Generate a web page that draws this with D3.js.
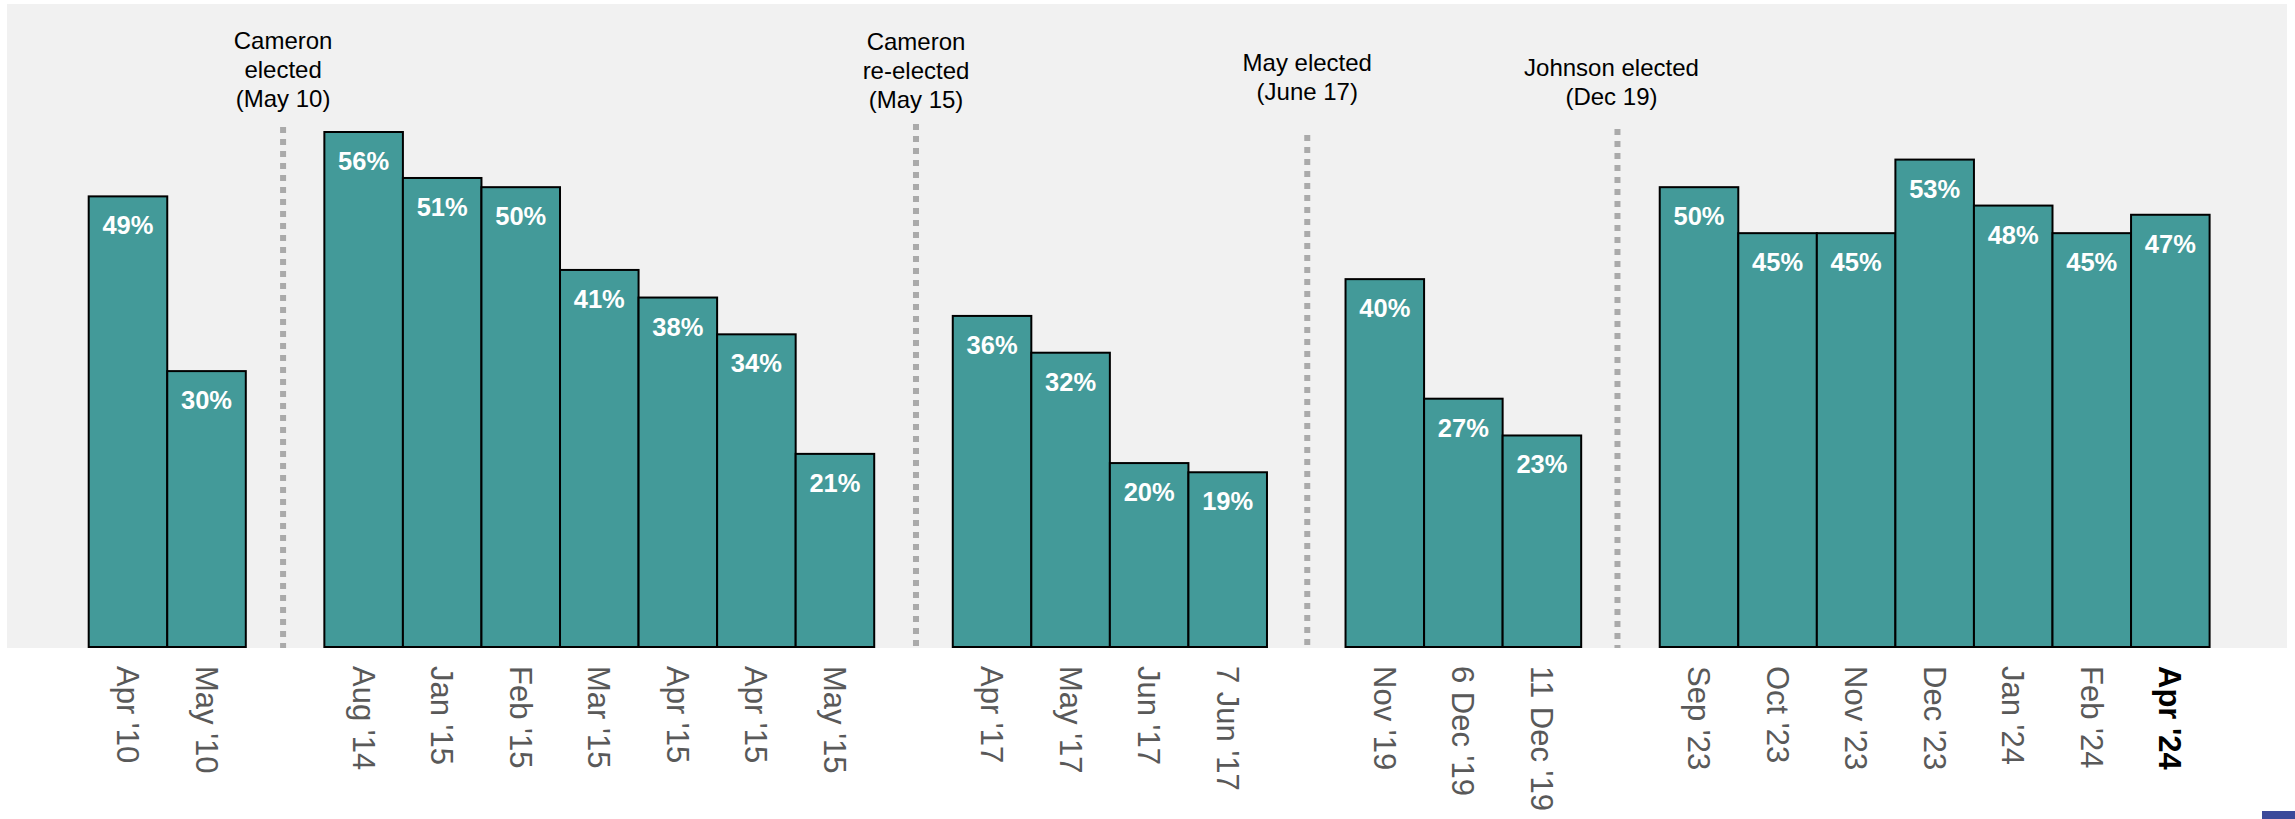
<!DOCTYPE html>
<html>
<head>
<meta charset="utf-8">
<script src="https://cdn.jsdelivr.net/npm/d3@7/dist/d3.min.js"></script>
<style>
  html, body { margin: 0; padding: 0; background: #ffffff; }
  svg { display: block; }
  text { font-family: "Liberation Sans", Arial, Helvetica, sans-serif; }
</style>
</head>
<body>
<svg id="chart" width="2295" height="819"></svg>
<script>
// ---- data ----
const groupCategories = [
  ["Apr '10", "May '10"],
  ["Aug '14", "Jan '15", "Feb '15", "Mar '15", "Apr '15", "Apr '15", "May '15"],
  ["Apr '17", "May '17", "Jun '17", "7 Jun '17"],
  ["Nov '19", "6 Dec '19", "11 Dec '19"],
  ["Sep '23", "Oct '23", "Nov '23", "Dec '23", "Jan '24", "Feb '24", "Apr '24"]
];
const groupValues = [
  [49, 30],
  [56, 51, 50, 41, 38, 34, 21],
  [36, 32, 20, 19],
  [40, 27, 23],
  [50, 45, 45, 53, 48, 45, 47]
];
const eventLabels = [
  ["Cameron", "elected", "(May 10)"],
  ["Cameron", "re-elected", "(May 15)"],
  ["May elected", "(June 17)"],
  ["Johnson elected", "(Dec 19)"]
];
const highlightCategory = "Apr '24";

// ---- layout ----
const W = 2295, H = 819;
const panel = { x0: 7, y0: 4, x1: 2287, y1: 648 };
const baseY = 647;
const teal = "#439a99";

// build slot list (bars + gap slots between groups)
const slots = [];
groupCategories.forEach((cats, g) => {
  cats.forEach((c, i) => slots.push({ key: `b${g}_${i}`, type: "bar", label: c, value: groupValues[g][i], group: g }));
  if (g < groupCategories.length - 1) slots.push({ key: `gap${g}`, type: "gap", event: g });
});

const x = d3.scaleBand().domain(slots.map(d => d.key)).range([88.7, 2209.6]).paddingInner(0).paddingOuter(0);
const y = d3.scaleLinear().domain([0, 56]).range([baseY, 132]);

const svg = d3.select("#chart");

svg.append("rect")
  .attr("x", panel.x0).attr("y", panel.y0)
  .attr("width", panel.x1 - panel.x0).attr("height", panel.y1 - panel.y0)
  .attr("fill", "#f1f1f1");

const bars = slots.filter(d => d.type === "bar");
const gaps = slots.filter(d => d.type === "gap");

// event dotted lines + labels
const eventTextBaseline = [49, 50, 71, 76];
const eventLineTop = [127, 124, 135, 129];
const eventLineDx = [-2, 2.5, 1, -3];
const eventTextDx = [0, 0, 0, -6];
gaps.forEach((gp, i) => {
  const cx = x(gp.key) + x.bandwidth() / 2 + eventLineDx[i];
  svg.append("line")
    .attr("x1", cx).attr("x2", cx)
    .attr("y1", eventLineTop[i]).attr("y2", baseY + 1)
    .attr("stroke", "#aaaaaa").attr("stroke-width", 6)
    .attr("stroke-dasharray", "6,6");
  const t = svg.append("text")
    .attr("text-anchor", "middle")
    .attr("font-size", 24)
    .attr("fill", "#000");
  eventLabels[i].forEach((ln, j) => {
    t.append("tspan")
      .attr("x", cx + eventTextDx[i])
      .attr("y", eventTextBaseline[i] + j * 29)
      .text(ln);
  });
});

// bars
svg.append("g").selectAll("rect")
  .data(bars).join("rect")
  .attr("x", d => x(d.key))
  .attr("y", d => y(d.value))
  .attr("width", x.bandwidth())
  .attr("height", d => baseY - y(d.value))
  .attr("fill", teal)
  .attr("stroke", "#000")
  .attr("stroke-width", 2);

// value labels
svg.append("g").selectAll("text")
  .data(bars).join("text")
  .attr("x", d => x(d.key) + x.bandwidth() / 2)
  .attr("y", d => y(d.value) + 38)
  .attr("text-anchor", "middle")
  .attr("font-size", 25.5)
  .attr("font-weight", "bold")
  .attr("fill", "#ffffff")
  .text(d => d.value + "%");

// x axis labels (rotated, reading top to bottom)
const isHighlight = d => d.label === highlightCategory && d.group === groupCategories.length - 1;
svg.append("g").selectAll("text")
  .data(bars).join("text")
  .attr("transform", d => `translate(${x(d.key) + x.bandwidth() / 2 - 11},666) rotate(90)`)
  .attr("text-anchor", "start")
  .attr("font-size", 31)
  .attr("font-weight", d => isHighlight(d) ? "bold" : "normal")
  .attr("fill", d => isHighlight(d) ? "#000000" : "#595959")
  .text(d => d.label);

// small blue marker bottom-right
svg.append("rect")
  .attr("x", 2262).attr("y", 811).attr("width", 33).attr("height", 8)
  .attr("fill", "#3b4a9a");
</script>
</body>
</html>
